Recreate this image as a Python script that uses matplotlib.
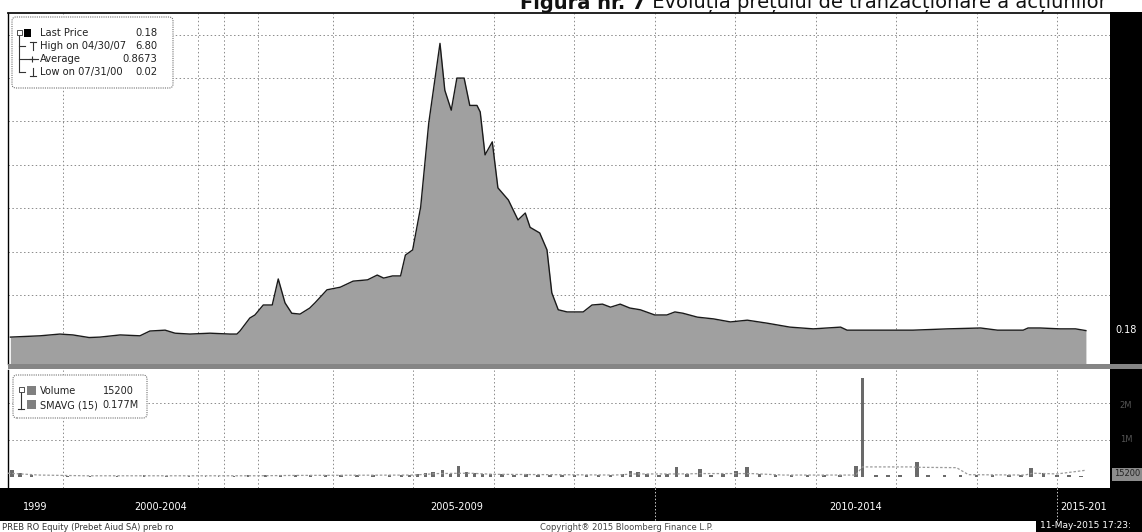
import numpy as np
import matplotlib
matplotlib.use("Agg")
import matplotlib.pyplot as plt
from matplotlib.patches import Rectangle, FancyBboxPatch
from matplotlib.lines import Line2D
from matplotlib import transforms

W, H, DPI = 1142, 532, 100

# last price (RON) by decimal year
price_dates = [1999.33, 1999.71, 1999.96, 2000.22, 2000.58, 2000.82, 2001.27, 2001.71, 2001.93,
               2002.27, 2002.49, 2002.82, 2003.46, 2004.18, 2004.38, 2004.47, 2004.76, 2004.91,
               2005.07, 2005.19, 2005.27, 2005.36, 2005.45, 2005.56, 2005.69, 2005.76, 2005.92,
               2006.09, 2006.25, 2006.43, 2006.55, 2006.63, 2006.74, 2006.84, 2006.90, 2006.99,
               2007.09, 2007.19, 2007.33, 2007.39, 2007.47, 2007.54, 2007.63, 2007.70, 2007.79,
               2007.83, 2007.89, 2007.98, 2008.05, 2008.18, 2008.30, 2008.39, 2008.45, 2008.57,
               2008.66, 2008.72, 2008.80, 2008.91, 2009.11, 2009.22, 2009.35, 2009.45, 2009.57,
               2009.69, 2009.82, 2010.00, 2010.15, 2010.25, 2010.35, 2010.53, 2010.73, 2010.94,
               2011.15, 2011.40, 2011.68, 2011.97, 2012.14, 2012.31, 2012.39, 2012.80, 2013.21,
               2013.64, 2014.05, 2014.26, 2014.58, 2014.64, 2014.79, 2015.04, 2015.23, 2015.36]
price = [0.03, 0.06, 0.10, 0.08, 0.02, 0.03, 0.08, 0.06, 0.17,
         0.19, 0.12, 0.10, 0.12, 0.10, 0.10, 0.17, 0.47, 0.54,
         0.77, 0.77, 1.37, 0.82, 0.58, 0.56, 0.70, 0.82, 1.12,
         1.18, 1.32, 1.35, 1.46, 1.39, 1.44, 1.44, 1.92, 2.04,
         3.03, 4.96, 6.80, 5.72, 5.26, 6.00, 6.00, 5.37, 5.37,
         5.22, 4.23, 4.53, 3.47, 3.19, 2.73, 2.89, 2.56, 2.43,
         2.04, 1.05, 0.66, 0.61, 0.61, 0.77, 0.79, 0.72, 0.79,
         0.70, 0.66, 0.54, 0.54, 0.61, 0.58, 0.49, 0.45, 0.38,
         0.42, 0.35, 0.26, 0.22, 0.24, 0.26, 0.19, 0.19, 0.19,
         0.22, 0.24, 0.19, 0.19, 0.24, 0.24, 0.22, 0.22, 0.18]

# traded volume, millions of shares
vol_dates = [1999.35, 1999.45, 1999.60, 2000.10, 2000.60, 2001.20, 2001.80, 2002.30, 2002.80,
             2003.30, 2003.80, 2004.30, 2004.70, 2005.10, 2005.30, 2005.50, 2005.70, 2005.90,
             2006.10, 2006.30, 2006.50, 2006.70, 2006.85, 2006.95, 2007.05, 2007.15, 2007.24,
             2007.36, 2007.46, 2007.56, 2007.66, 2007.76, 2007.86, 2007.96, 2008.10, 2008.25,
             2008.40, 2008.55, 2008.70, 2008.85, 2009.00, 2009.15, 2009.30, 2009.45, 2009.60,
             2009.70, 2009.79, 2009.90, 2010.05, 2010.15, 2010.27, 2010.40, 2010.56, 2010.70,
             2010.85, 2011.01, 2011.15, 2011.30, 2011.50, 2011.70, 2011.90, 2012.10, 2012.30,
             2012.50, 2012.58, 2012.75, 2012.90, 2013.05, 2013.26, 2013.40, 2013.60, 2013.80,
             2014.00, 2014.20, 2014.40, 2014.55, 2014.68, 2014.83, 2015.00, 2015.15, 2015.30]
volume = [0.20, 0.10, 0.05, 0.03, 0.02, 0.03, 0.04, 0.03, 0.02,
          0.03, 0.03, 0.02, 0.04, 0.05, 0.06, 0.04, 0.05, 0.04,
          0.05, 0.04, 0.05, 0.06, 0.05, 0.06, 0.08, 0.10, 0.14,
          0.19, 0.09, 0.30, 0.14, 0.10, 0.08, 0.09, 0.07, 0.06,
          0.08, 0.06, 0.05, 0.06, 0.05, 0.06, 0.05, 0.06, 0.08,
          0.16, 0.14, 0.07, 0.06, 0.08, 0.27, 0.08, 0.22, 0.06,
          0.07, 0.16, 0.27, 0.07, 0.05, 0.06, 0.04, 0.05, 0.04,
          0.30, 2.68, 0.06, 0.05, 0.06, 0.41, 0.05, 0.04, 0.05,
          0.04, 0.05, 0.04, 0.05, 0.24, 0.11, 0.04, 0.05, 0.02]

# 15-period simple moving average of volume, millions
smavg_dates = [1999.30, 1999.70, 2000.50, 2004.90, 2005.50, 2007.00, 2007.30, 2007.70, 2008.00,
               2009.50, 2009.75, 2010.30, 2010.60, 2011.20, 2011.60, 2012.50, 2012.58, 2013.20,
               2013.26, 2013.75, 2013.90, 2014.60, 2014.70, 2015.00, 2015.36]
smavg = [0.10, 0.05, 0.03, 0.03, 0.04, 0.05, 0.09, 0.10, 0.07,
         0.05, 0.08, 0.08, 0.09, 0.09, 0.05, 0.05, 0.27, 0.27,
         0.26, 0.25, 0.06, 0.05, 0.10, 0.08, 0.18]

period_labels = ["1999", "2000-2004", "2005-2009", "2010-2014", "2015-201"]
period_edges = [1999.3, 2000, 2005, 2010, 2015, 2015.66]
grid_years = [2000, 2003, 2004] + list(range(2005, 2016))

price_legend = [("Last Price", "0.18"), ("High on 04/30/07", "6.80"),
                ("Average", "0.8673"), ("Low on 07/31/00", "0.02")]
volume_legend = [("Volume", "15200"), ("SMAVG (15)", "0.177M")]

# Bloomberg squeezes the thinly traded early years: axis units at each knot year
axis_years = [1980, 1999.3, 2000, 2003, 2004, 2005, 2006, 2015, 2015.66, 2030]
axis_units = [-1517, 0, 55, 190, 216, 250, 325, 1049, 1102, 2255]


def fwd(x):
    return np.interp(x, axis_years, axis_units)


def inv(u):
    return np.interp(u, axis_units, axis_years)


def fx(px):
    return px / W


def fy(py):
    return 1 - py / H


fig = plt.figure(figsize=(W / DPI, H / DPI), dpi=DPI)
fig.patch.set_facecolor("white")
plt.rcParams['font.family'] = ['DejaVu Sans']

ax = fig.add_axes([fx(8), fy(364), (1110 - 8) / W, (364 - 13) / H])
axv = fig.add_axes([fx(8), fy(488), (1110 - 8) / W, (488 - 370) / H], sharex=ax)
ax.set_xscale('function', functions=(fwd, inv))
ax.set_xlim(1999.3, 2015.66)
ax.set_ylim(-0.59, 7.5)
axv.set_ylim(-0.3, 2.89)

grid_kw = dict(color="#8a8a8a", lw=0.7, ls=(0, (1.5, 2.5)), zorder=0)
for yr in grid_years:
    ax.axvline(yr, **grid_kw)
    axv.axvline(yr, **grid_kw)
for lvl in range(1, 8):
    ax.axhline(lvl, **grid_kw)
for lvl in (1, 2):
    axv.axhline(lvl, **grid_kw)

# price area
ax.fill_between(price_dates, price, -1, color="#a0a0a0", lw=0, zorder=2)
ax.plot(price_dates, price, color="#1a1a1a", lw=1.0, zorder=3)

# volume bars + moving average
axv.bar(vol_dates, volume, width=0.045, color="#6a6a6a", lw=0, zorder=2)
axv.plot(smavg_dates, smavg, color="#9a9a9a", lw=0.9, ls=(0, (2, 1.5)), zorder=3)

for a in (ax, axv):
    for s in ("right", "bottom", "top"):
        a.spines[s].set_visible(False)
    a.spines["left"].set_color("black")
    a.spines["left"].set_linewidth(1.0)
    a.set_yticks([])
ax.spines["top"].set_visible(True)
ax.spines["top"].set_color("#111111")
ax.spines["top"].set_linewidth(1.3)
ax.tick_params(axis="x", bottom=False, labelbottom=False)

tick_dates = list(np.arange(1999.5, 2004, 0.5)) + list(np.arange(2004, 2015.3, 0.25))
axv.set_xticks(tick_dates)
axv.tick_params(axis="x", direction="out", length=4, width=0.8, color="white",
                labelbottom=False)
ax.set_xlim(1999.3, 2015.66)

# black frame bands
band = dict(transform=fig.transFigure, facecolor="black", edgecolor="none")
fig.patches.append(Rectangle((fx(1110), fy(488)), (W - 1110) / W, (488 - 12) / H, **band))
fig.patches.append(Rectangle((0, fy(521)), 1, (521 - 488) / H, **band))
fig.patches.append(Rectangle((fx(1036), 0), (W - 1036) / W, fy(521), **band))
fig.patches.append(Rectangle((fx(8), fy(369)), (W - 8) / W, 5 / H, transform=fig.transFigure,
                             facecolor="#858585", edgecolor="none", zorder=2))

# period labels under the axis
xt = transforms.blended_transform_factory(axv.transData, fig.transFigure)
for lab, a, b in zip(period_labels, period_edges[:-1], period_edges[1:]):
    mid = inv((fwd(a) + fwd(b)) / 2)
    fig.text(mid, fy(507), lab, transform=xt, ha="center", va="center",
             color="white", fontsize=7)
for yr in (2010, 2015):
    fig.add_artist(Line2D([yr, yr], [fy(488), fy(521)], transform=xt, color="#cccccc",
                          lw=0.7, ls=(0, (1.5, 2))))

fig.text(fx(2), fy(527), "PREB RO Equity (Prebet Aiud SA) preb ro", ha="left", va="center",
         fontsize=6, color="#333333")
fig.text(fx(627), fy(527), "Copyright\u00ae 2015 Bloomberg Finance L.P.", ha="center",
         va="center", fontsize=6, color="#444444")
fig.text(fx(1040), fy(526), "11-May-2015 17:23:", ha="left", va="center", fontsize=6.5,
         color="white")

# right-hand value labels
fig.text(fx(1126), fy(330), "0.18", ha="center", va="center", fontsize=7, color="white")
fig.text(fx(1126), fy(405), "2M", ha="center", va="center", fontsize=6, color="#555555")
fig.text(fx(1126), fy(439), "1M", ha="center", va="center", fontsize=6, color="#555555")
fig.patches.append(Rectangle((fx(1112), fy(481)), (W - 1112) / W, 13 / H,
                             transform=fig.transFigure, facecolor="#8c8c8c", edgecolor="none"))
fig.text(fx(1127), fy(474), "15200", ha="center", va="center", fontsize=6, color="#222222")

# title, its top clipped by the page edge
t1 = fig.text(fx(520), fy(9), "Figura nr. 7", ha="left", va="baseline", fontsize=14,
              fontweight="bold", color="#111111")
ax.annotate(" Evolu\u021bia pre\u021bului de tranzac\u021bionare a ac\u021biunilor",
            xy=(1, 0), xycoords=t1, ha="left", va="bottom", fontsize=14, color="#111111",
            annotation_clip=False)


def inch(px, py):
    return px / DPI, (H - py) / DPI


def legend_box(x0, y0, x1, y1):
    box = FancyBboxPatch(inch(x0, y1), (x1 - x0) / DPI, (y1 - y0) / DPI,
                         boxstyle="round,pad=0,rounding_size=0.04",
                         transform=fig.dpi_scale_trans, facecolor="white",
                         edgecolor="#707070", lw=0.8, ls=(0, (1, 1)), zorder=5)
    fig.patches.append(box)


def seg(xs, ys, **kw):
    kw.setdefault("color", "#333333")
    kw.setdefault("lw", 0.8)
    fig.add_artist(Line2D([fx(v) for v in xs], [fy(v) for v in ys],
                          transform=fig.transFigure, zorder=6, **kw))


def sq(x0, y0, size_w, size_h, fc, ec="none"):
    fig.patches.append(Rectangle((fx(x0), fy(y0 + size_h)), size_w / W, size_h / H,
                                 transform=fig.transFigure, facecolor=fc, edgecolor=ec,
                                 lw=0.6, zorder=6))


# price legend
legend_box(12, 17, 173, 88)
rows = [33, 46, 59, 72]
sq(17, 30, 5, 5, "white", "#333333")
seg([18, 21], [32.5, 32.5])
sq(24, 29, 7, 8, "black")
seg([19.5, 19.5], [35, 72])
for r in rows[1:]:
    seg([19.5, 25], [r, r])
seg([33, 33], [42, 50])
seg([30, 36], [42, 42])
seg([26, 38], [59, 59])
fig.add_artist(Line2D([fx(32)], [fy(59)], marker="+", ms=4, mew=0.8, color="#333333",
                      transform=fig.transFigure, zorder=6))
seg([33, 33], [68, 76])
seg([30, 36], [76, 76])
for (name, val), r in zip(price_legend, rows):
    fig.text(fx(40), fy(r), name, ha="left", va="center", fontsize=7.2, color="#222222",
             zorder=7)
    fig.text(fx(157), fy(r), val, ha="right", va="center", fontsize=7.2, color="#222222",
             zorder=7)

# volume legend
legend_box(13, 375, 147, 418)
vrows = [391, 405]
sq(19, 387, 5, 5, "white", "#333333")
seg([20, 23], [389.5, 389.5])
seg([21.5, 21.5], [392, 409])
seg([18.5, 24.5], [409, 409])
for r in vrows:
    sq(27, r - 5, 9, 9, "#808080")
for (name, val), r, xr in zip(volume_legend, vrows, (134, 139)):
    fig.text(fx(40), fy(r), name, ha="left", va="center", fontsize=7, color="#222222", zorder=7)
    fig.text(fx(xr), fy(r), val, ha="right", va="center", fontsize=7, color="#222222", zorder=7)

fig.savefig("out.png", dpi=DPI)
